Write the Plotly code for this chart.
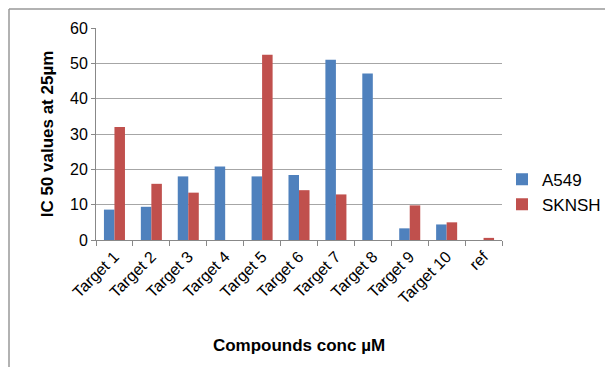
import plotly.graph_objects as go

categories = ["Target 1", "Target 2", "Target 3", "Target 4", "Target 5", "Target 6",
              "Target 7", "Target 8", "Target 9", "Target 10", "ref"]
a549 = [8.6, 9.4, 18.0, 20.8, 18.0, 18.4, 51.0, 47.1, 3.3, 4.4, None]
sknsh = [32.0, 15.9, 13.4, None, 52.4, 14.1, 12.9, None, 9.8, 5.0, 0.6]

FONT = "Liberation Sans, Arial, sans-serif"

fig = go.Figure()
fig.add_trace(go.Bar(name="A549", x=categories, y=a549,
                     marker=dict(color="#4F81BD", line=dict(width=0))))
fig.add_trace(go.Bar(name="SKNSH", x=categories, y=sknsh,
                     marker=dict(color="#C0504D", line=dict(width=0))))

fig.update_layout(
    width=605, height=367,
    margin=dict(l=96, r=103, t=28, b=127, autoexpand=False),
    paper_bgcolor="white", plot_bgcolor="white",
    barmode="group", bargap=0.43, bargroupgap=0,
    font=dict(family=FONT, size=15, color="black"),
    showlegend=True,
    legend=dict(x=1.0, y=0.226, xanchor="left", yanchor="middle",
                font=dict(size=17), itemwidth=30, tracegroupgap=6,
                bgcolor="rgba(0,0,0,0)"),
    xaxis=dict(
        type="category", tickangle=-45, tickson="boundaries",
        ticks="outside", ticklen=5, tickcolor="#888888",
        showline=True, linecolor="#888888", linewidth=1,
        tickfont=dict(size=16),
        title=dict(text="<b>Compounds conc µM</b>", font=dict(size=17), standoff=32),
    ),
    yaxis=dict(
        range=[0, 60], dtick=10,
        ticks="outside", ticklen=4, tickcolor="#888888",
        showgrid=True, gridcolor="#A6A6A6", gridwidth=1,
        showline=True, linecolor="#888888", linewidth=1,
        zeroline=False, tickfont=dict(size=16),
        title=dict(text="<b>IC 50 values at 25µm</b>", font=dict(size=17), standoff=12),
    ),
)

# frame lines along the top and left edges of the chart
fig.add_shape(type="line", xref="paper", yref="paper",
              x0=-87 / 406, x1=1.3, y0=1 + 19 / 212, y1=1 + 19 / 212,
              line=dict(color="#999999", width=1.5))
fig.add_shape(type="line", xref="paper", yref="paper",
              x0=-87 / 406, x1=-87 / 406, y0=1 + 19 / 212, y1=-0.7,
              line=dict(color="#999999", width=1.5))

fig.write_html("out.html")
